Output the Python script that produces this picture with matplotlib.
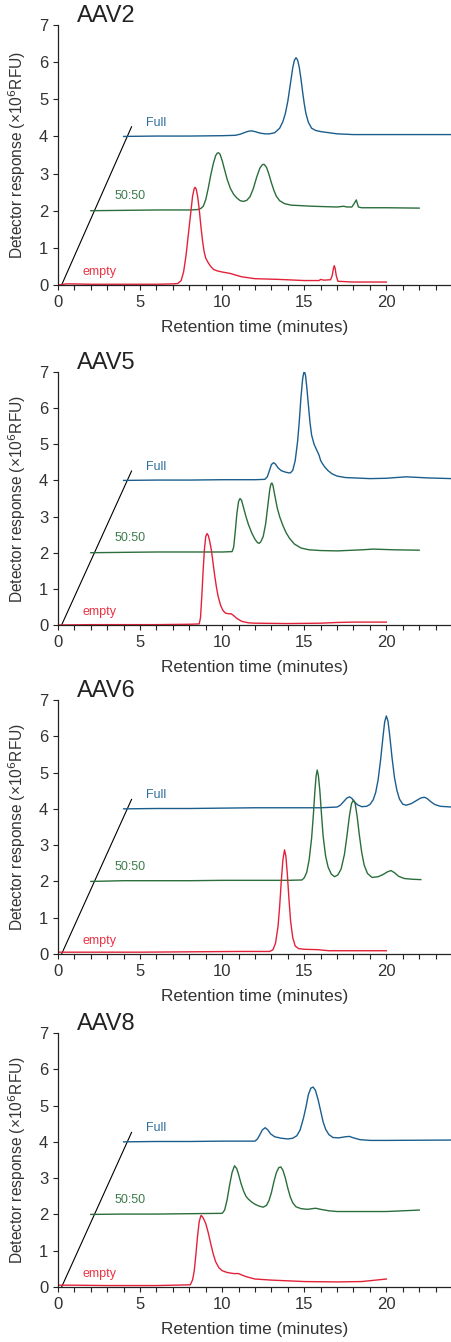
import matplotlib.pyplot as plt

plt.rcParams['font.family'] = ['Liberation Sans', 'DejaVu Sans']

# retention time (min) / detector response (x10^6 RFU)
aav2_full_t = [4.0, 6.0, 8.0, 10.0, 10.8, 11.1, 11.4, 11.6, 11.8, 12.0, 12.3, 12.6, 12.9, 13.2, 13.5, 13.7, 13.85, 14.0, 14.1, 14.2, 14.3, 14.4, 14.5, 14.6, 14.7, 14.8, 14.9, 15.0, 15.1, 15.25, 15.45, 15.7, 16.0, 16.5, 17.0, 18.0, 20.0, 24.0]
aav2_full_y = [4.00, 4.01, 4.01, 4.02, 4.03, 4.06, 4.11, 4.14, 4.15, 4.13, 4.09, 4.07, 4.07, 4.10, 4.22, 4.40, 4.62, 4.95, 5.25, 5.55, 5.85, 6.05, 6.12, 6.05, 5.85, 5.55, 5.20, 4.88, 4.62, 4.38, 4.22, 4.16, 4.13, 4.10, 4.07, 4.05, 4.05, 4.05]
aav2_mid_t = [2.0, 4.0, 6.0, 8.0, 8.5, 8.7, 8.85, 9.0, 9.15, 9.3, 9.45, 9.6, 9.7, 9.78, 9.87, 10.0, 10.15, 10.3, 10.5, 10.7, 10.9, 11.1, 11.3, 11.5, 11.7, 11.9, 12.1, 12.3, 12.45, 12.55, 12.7, 12.85, 13.0, 13.15, 13.3, 13.5, 13.8, 14.2, 15.5, 17.0, 17.4, 17.6, 17.9, 18.05, 18.17, 18.3, 18.5, 20.0, 22.0]
aav2_mid_y = [2.00, 2.01, 2.02, 2.02, 2.03, 2.06, 2.12, 2.30, 2.60, 2.95, 3.25, 3.48, 3.55, 3.56, 3.52, 3.35, 3.10, 2.85, 2.60, 2.44, 2.34, 2.27, 2.25, 2.28, 2.38, 2.60, 2.90, 3.15, 3.24, 3.25, 3.17, 2.98, 2.75, 2.55, 2.39, 2.27, 2.19, 2.15, 2.12, 2.10, 2.12, 2.10, 2.10, 2.20, 2.29, 2.10, 2.08, 2.08, 2.07]
aav2_empty_t = [0.0, 0.5, 0.8, 2.0, 4.0, 6.0, 7.0, 7.3, 7.5, 7.65, 7.8, 7.95, 8.1, 8.2, 8.3, 8.35, 8.42, 8.5, 8.6, 8.7, 8.8, 8.9, 9.0, 9.15, 9.3, 9.47, 9.7, 10.0, 10.5, 10.8, 11.2, 12.0, 13.5, 15.0, 15.9, 16.0, 16.2, 16.5, 16.6, 16.7, 16.78, 16.83, 16.88, 16.95, 17.05, 18.0, 20.0]
aav2_empty_y = [0.00, 0.03, 0.03, 0.02, 0.02, 0.02, 0.03, 0.04, 0.12, 0.35, 0.80, 1.40, 2.00, 2.40, 2.60, 2.63, 2.58, 2.40, 2.05, 1.60, 1.20, 0.90, 0.72, 0.60, 0.50, 0.42, 0.38, 0.35, 0.31, 0.27, 0.22, 0.17, 0.15, 0.12, 0.12, 0.15, 0.13, 0.14, 0.14, 0.25, 0.45, 0.52, 0.45, 0.25, 0.10, 0.08, 0.08]

aav5_full_t = [4.0, 6.0, 8.0, 10.0, 12.0, 12.6, 12.75, 12.9, 13.0, 13.13, 13.25, 13.4, 13.6, 13.85, 14.05, 14.16, 14.3, 14.45, 14.6, 14.7, 14.8, 14.9, 14.97, 15.02, 15.08, 15.15, 15.25, 15.35, 15.45, 15.6, 15.75, 15.9, 16.0, 16.1, 16.25, 16.45, 16.7, 17.0, 17.5, 19.0, 20.0, 21.2, 22.5, 24.0]
aav5_full_y = [4.00, 4.01, 4.01, 4.02, 4.02, 4.03, 4.10, 4.30, 4.44, 4.49, 4.45, 4.35, 4.27, 4.23, 4.21, 4.21, 4.28, 4.55, 5.10, 5.65, 6.30, 6.80, 6.98, 7.00, 6.90, 6.60, 6.10, 5.60, 5.25, 5.00, 4.85, 4.70, 4.55, 4.47, 4.37, 4.27, 4.18, 4.12, 4.08, 4.05, 4.06, 4.10, 4.07, 4.05]
aav5_mid_t = [2.0, 4.0, 6.0, 8.0, 10.0, 10.6, 10.7, 10.8, 10.9, 11.0, 11.09, 11.18, 11.3, 11.45, 11.6, 11.8, 12.0, 12.15, 12.25, 12.35, 12.5, 12.65, 12.78, 12.9, 12.97, 13.03, 13.1, 13.2, 13.35, 13.5, 13.7, 13.9, 14.1, 14.4, 14.8, 15.3, 16.0, 17.0, 18.5, 19.2, 20.5, 22.0]
aav5_mid_y = [2.00, 2.01, 2.02, 2.02, 2.02, 2.03, 2.15, 2.60, 3.10, 3.42, 3.50, 3.45, 3.25, 3.00, 2.78, 2.55, 2.37, 2.28, 2.26, 2.30, 2.45, 2.80, 3.30, 3.75, 3.90, 3.93, 3.85, 3.60, 3.25, 3.00, 2.75, 2.55, 2.40, 2.24, 2.13, 2.08, 2.06, 2.05, 2.08, 2.10, 2.08, 2.07]
aav5_empty_t = [0.0, 2.0, 4.0, 6.0, 8.0, 8.6, 8.68, 8.76, 8.84, 8.92, 9.0, 9.08, 9.16, 9.25, 9.35, 9.45, 9.55, 9.65, 9.75, 9.9, 10.05, 10.2, 10.4, 10.55, 10.7, 10.9, 11.2, 11.6, 12.0, 14.0, 16.0, 17.0, 18.0, 20.0]
aav5_empty_y = [0.00, 0.01, 0.01, 0.01, 0.02, 0.03, 0.20, 0.80, 1.50, 2.10, 2.45, 2.53, 2.47, 2.30, 2.05, 1.70, 1.35, 1.05, 0.80, 0.55, 0.40, 0.33, 0.31, 0.31, 0.26, 0.18, 0.10, 0.06, 0.05, 0.04, 0.05, 0.07, 0.08, 0.08]

aav6_full_t = [4.0, 6.0, 8.0, 10.0, 12.0, 14.0, 16.0, 17.0, 17.2, 17.4, 17.6, 17.76, 17.9, 18.05, 18.25, 18.5, 18.8, 19.0, 19.2, 19.35, 19.5, 19.65, 19.8, 19.9, 20.0, 20.1, 20.2, 20.35, 20.5, 20.65, 20.8, 21.0, 21.2, 21.5, 21.8, 22.1, 22.32, 22.5, 22.7, 22.95, 23.3, 24.0]
aav6_full_y = [4.00, 4.01, 4.01, 4.02, 4.03, 4.03, 4.03, 4.05, 4.10, 4.20, 4.30, 4.33, 4.29, 4.20, 4.11, 4.06, 4.07, 4.12, 4.25, 4.45, 4.80, 5.35, 6.00, 6.40, 6.56, 6.42, 6.05, 5.40, 4.85, 4.50, 4.27, 4.13, 4.10, 4.14, 4.22, 4.30, 4.32, 4.28, 4.20, 4.12, 4.07, 4.05]
aav6_mid_t = [2.0, 4.0, 6.0, 8.0, 10.0, 12.0, 14.0, 14.86, 15.0, 15.15, 15.3, 15.45, 15.55, 15.65, 15.72, 15.79, 15.86, 15.95, 16.05, 16.15, 16.3, 16.45, 16.65, 16.85, 17.05, 17.25, 17.45, 17.6, 17.75, 17.88, 18.0, 18.1, 18.22, 18.35, 18.5, 18.65, 18.85, 19.13, 19.5, 19.8, 20.05, 20.28, 20.5, 20.75, 21.1, 21.6, 22.1]
aav6_mid_y = [2.00, 2.02, 2.02, 2.02, 2.03, 2.03, 2.03, 2.04, 2.10, 2.25, 2.60, 3.20, 3.80, 4.50, 4.90, 5.07, 4.92, 4.50, 3.85, 3.25, 2.70, 2.40, 2.20, 2.13, 2.18, 2.35, 2.75, 3.25, 3.80, 4.15, 4.24, 4.15, 3.80, 3.30, 2.80, 2.45, 2.22, 2.11, 2.13, 2.19, 2.26, 2.30, 2.24, 2.14, 2.08, 2.06, 2.05]
aav6_empty_t = [0.0, 2.0, 5.0, 8.0, 11.0, 12.9, 13.1, 13.25, 13.4, 13.5, 13.6, 13.7, 13.8, 13.88, 13.97, 14.07, 14.17, 14.3, 14.45, 14.65, 15.0, 15.8, 16.5, 18.0, 20.0]
aav6_empty_y = [0.05, 0.05, 0.05, 0.06, 0.07, 0.07, 0.12, 0.30, 0.75, 1.30, 2.00, 2.60, 2.87, 2.70, 2.20, 1.50, 0.90, 0.45, 0.22, 0.15, 0.13, 0.12, 0.09, 0.09, 0.09]

aav8_full_t = [4.0, 6.0, 8.0, 10.0, 12.0, 12.15, 12.3, 12.45, 12.62, 12.78, 12.95, 13.2, 13.6, 14.0, 14.3, 14.55, 14.75, 14.95, 15.1, 15.25, 15.4, 15.54, 15.68, 15.85, 16.0, 16.15, 16.3, 16.5, 16.75, 17.1, 17.5, 17.75, 18.0, 18.4, 19.0, 20.0, 24.0]
aav8_full_y = [4.00, 4.01, 4.01, 4.02, 4.02, 4.08, 4.20, 4.33, 4.39, 4.33, 4.22, 4.14, 4.10, 4.08, 4.10, 4.17, 4.33, 4.65, 4.95, 5.30, 5.48, 5.51, 5.42, 5.15, 4.85, 4.55, 4.35, 4.20, 4.12, 4.11, 4.14, 4.15, 4.11, 4.06, 4.04, 4.04, 4.05]
aav8_mid_t = [2.0, 4.0, 6.0, 8.0, 10.0, 10.15, 10.3, 10.45, 10.6, 10.75, 10.88, 11.0, 11.15, 11.3, 11.45, 11.6, 11.8, 12.0, 12.25, 12.5, 12.7, 12.85, 13.0, 13.15, 13.3, 13.45, 13.57, 13.7, 13.85, 14.0, 14.15, 14.3, 14.5, 14.8, 15.2, 15.5, 15.7, 16.0, 16.5, 17.0, 20.0, 22.0]
aav8_mid_y = [2.00, 2.01, 2.01, 2.02, 2.03, 2.12, 2.40, 2.80, 3.15, 3.34, 3.27, 3.10, 2.85, 2.65, 2.50, 2.42, 2.34, 2.28, 2.23, 2.20, 2.25, 2.38, 2.60, 2.90, 3.15, 3.29, 3.31, 3.22, 3.00, 2.72, 2.48, 2.32, 2.21, 2.16, 2.14, 2.16, 2.17, 2.14, 2.10, 2.08, 2.08, 2.12]
aav8_empty_t = [0.0, 1.0, 3.0, 6.0, 8.06, 8.2, 8.3, 8.4, 8.5, 8.6, 8.7, 8.73, 8.85, 9.0, 9.15, 9.3, 9.45, 9.6, 9.8, 10.0, 10.3, 10.7, 11.0, 11.2, 11.5, 12.0, 13.0, 15.0, 17.0, 18.5, 20.0]
aav8_empty_y = [0.05, 0.05, 0.04, 0.04, 0.06, 0.20, 0.45, 0.90, 1.40, 1.80, 1.96, 1.97, 1.90, 1.75, 1.50, 1.20, 0.92, 0.70, 0.53, 0.45, 0.40, 0.37, 0.37, 0.33, 0.28, 0.22, 0.19, 0.15, 0.14, 0.15, 0.22]

# offset guide line
diag_t = [0.22, 4.48]
diag_y = [0.0, 4.26]

titles = ['AAV2', 'AAV5', 'AAV6', 'AAV8']
trace_names = ['Full', '50:50', 'empty']

panels = [
    (aav2_full_t, aav2_full_y, aav2_mid_t, aav2_mid_y, aav2_empty_t, aav2_empty_y),
    (aav5_full_t, aav5_full_y, aav5_mid_t, aav5_mid_y, aav5_empty_t, aav5_empty_y),
    (aav6_full_t, aav6_full_y, aav6_mid_t, aav6_mid_y, aav6_empty_t, aav6_empty_y),
    (aav8_full_t, aav8_full_y, aav8_mid_t, aav8_mid_y, aav8_empty_t, aav8_empty_y),
]

line_cols = ['#1b5e8e', '#2b6e3b', '#e3223a']
text_cols = ['#2f6f9f', '#3c7c4c', '#ea3345']
label_xy = [(5.35, 4.37), (3.42, 2.4), (1.5, 0.35)]

# axes boxes in figure pixels (top, bottom)
boxes = [(25, 285), (372, 625), (700, 954), (1033, 1287)]
W, H = 452, 1342

fig = plt.figure(figsize=(W / 100, H / 100), dpi=100)

for i, p in enumerate(panels):
    top, bot = boxes[i]
    ax = fig.add_axes([58 / W, 1 - bot / H, 1 - 58 / W, (bot - top) / H])
    ax.plot(diag_t, diag_y, color='black', lw=0.8)
    for k in range(3):
        ax.plot(p[2 * k], p[2 * k + 1], color=line_cols[k], lw=1.0)
        ax.text(label_xy[k][0], label_xy[k][1], trace_names[k], color=text_cols[k],
                fontsize=9, va='center', ha='left')
    ax.set_xlim(0, 24)
    ax.set_ylim(0, 7)
    ax.set_xticks([0, 5, 10, 15, 20])
    ax.set_xticks(range(0, 25), minor=True)
    ax.set_yticks(range(0, 8))
    ax.spines['top'].set_visible(False)
    ax.spines['right'].set_visible(False)
    for s in ['left', 'bottom']:
        ax.spines[s].set_color('#222222')
        ax.spines[s].set_linewidth(0.9)
    ax.tick_params(axis='both', which='both', direction='out', length=3.5, width=0.8,
                   colors='#222222', labelsize=12, labelcolor='#333333')
    ax.tick_params(axis='x', pad=4)
    ax.set_xlabel('Retention time (minutes)', fontsize=12.3, color='#333333', labelpad=7)
    ax.set_ylabel('Detector response (×10$^6$RFU)', fontsize=11.2, color='#333333', labelpad=8)
    ax.text(0.048, 1.01, titles[i], transform=ax.transAxes, fontsize=17,
            color='#222222', ha='left', va='baseline')

fig.savefig('out.png', dpi=100)
